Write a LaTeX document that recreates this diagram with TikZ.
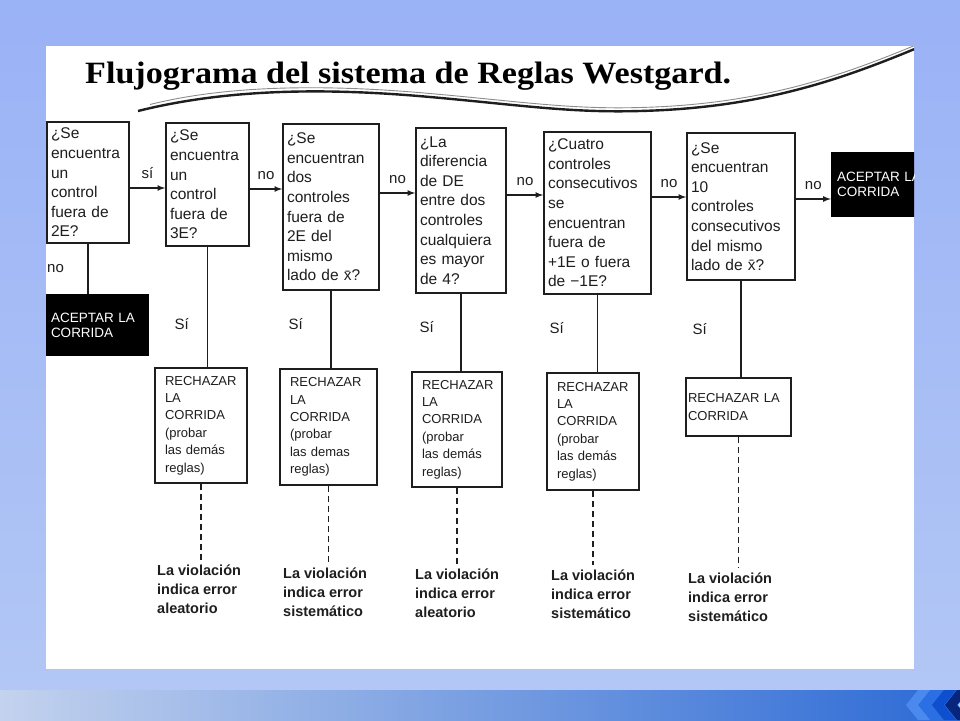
\documentclass[tikz,border=0pt]{standalone}
\usepackage{fontspec}
\setmainfont{Liberation Sans}
\newfontfamily\titlefont{Liberation Serif}
\usetikzlibrary{positioning,arrows,calc}
\definecolor{slidetop}{HTML}{9AB2F6}
\definecolor{slidebot}{HTML}{B3C8F5}
\definecolor{bandl}{HTML}{C3D2EE}
\definecolor{bandm}{HTML}{7FA5E6}
\definecolor{bandr}{HTML}{2C6AD5}
\definecolor{chevA}{HTML}{4A8AEE}
\definecolor{chevB}{HTML}{2B6FE5}
\definecolor{chevC}{HTML}{0E4FD0}
\definecolor{chevD}{HTML}{06267E}
\definecolor{ink}{HTML}{1E1E1E}

\begin{document}
\begin{tikzpicture}[x=1pt,y=-1pt,>=latex,
  qbox/.style={draw=ink,line width=1.7pt,align=left,inner xsep=4pt,inner ysep=0pt,text=ink,font=\fontsize{15.5}{19.6}\selectfont},
  rbox/.style={draw=ink,line width=1.7pt,align=left,inner xsep=10pt,inner ysep=0pt,text=ink,font=\fontsize{13}{17.4}\selectfont},
  acc/.style={fill=black,text=white,align=left,inner xsep=6pt,inner ysep=0pt,font=\fontsize{13.5}{15}\selectfont},
  lbl/.style={text=ink,font=\fontsize{15}{18}\selectfont},
  viol/.style={align=left,anchor=north west,inner sep=0pt,text=ink,font=\bfseries\fontsize{14.5}{19}\selectfont},
  flow/.style={->,line width=1.6pt,draw=ink},
  link/.style={line width=1.6pt,draw=ink},
  dashlink/.style={line width=1.8pt,draw=ink,dash pattern=on 6pt off 4pt,shorten >=5pt}]
\useasboundingbox (0,0) rectangle (960,720);
\fill[top color=slidetop,bottom color=slidebot] (0,0) rectangle (960,720);
\fill[left color=bandl,middle color=bandm,right color=bandr] (0,690) rectangle (960,720);
\fill[chevA] (906,705) -- (918,690) -- (930,690) -- (918,705) -- (930,720) -- (918,720) -- cycle;
\fill[chevB] (919,705) -- (931,690) -- (943,690) -- (931,705) -- (943,720) -- (931,720) -- cycle;
\fill[chevC] (932,705) -- (944,690) -- (956,690) -- (944,705) -- (956,720) -- (944,720) -- cycle;
\fill[chevD] (945,705) -- (957,690) -- (969,690) -- (957,705) -- (969,720) -- (957,720) -- cycle;
\fill[slidebot] (958,705) -- (970,690) -- (982,690) -- (970,705) -- (982,720) -- (970,720) -- cycle;
\fill[white] (46,46) rectangle (914,669);

\begin{scope}
\clip (46,46) rectangle (914,669);
\node[font=\titlefont\bfseries\fontsize{31}{31}\selectfont,anchor=base west,text=black,inner xsep=0pt] (title) at (85,83) {\scalebox{1.1}[1]{Flujograma del sistema de Reglas Westgard.}};
\draw[line width=2.4pt,ink] (138,111) .. controls (230,88) and (330,88) .. (430,97) .. controls (520,105) and (570,113) .. (640,111) .. controls (760,108) and (840,80) .. (917,48);
\draw[line width=0.9pt,black!45,yshift=3.5pt] (150,108) .. controls (230,88) and (330,88) .. (430,97) .. controls (520,105) and (570,113) .. (640,111) .. controls (760,108) and (840,80) .. (917,48);

\node[qbox,text width=74pt,minimum height=121pt] (Q1) at (88,182.5) {¿Se\\encuentra\\un\\control\\fuera de\\2E?};
\node[qbox,text width=75pt,minimum height=123pt] (Q2) at (207.5,184.5) {¿Se\\encuentra\\un\\control\\fuera de\\3E?};
\node[qbox,text width=88pt,minimum height=166pt] (Q3) at (331,207) {¿Se\\encuentran\\dos\\controles\\fuera de\\2E del\\mismo\\lado de \={x}?};
\node[qbox,text width=82pt,minimum height=165pt] (Q4) at (461,210.5) {¿La\\diferencia\\de DE\\entre dos\\controles\\cualquiera\\es mayor\\de 4?};
\node[qbox,text width=99pt,minimum height=162pt] (Q5) at (597.5,213) {¿Cuatro\\controles\\consecutivos\\se\\encuentran\\fuera de\\+1E o fuera\\de −1E?};
\node[qbox,text width=100pt,minimum height=147pt] (Q6) at (741,206.5) {¿Se\\encuentran\\10\\controles\\consecutivos\\del mismo\\lado de \={x}?};
\node[acc,text width=106pt,minimum height=65pt] (A2) at (890,184.5) {ACEPTAR LA\\CORRIDA};
\node[acc,text width=92pt,minimum height=62pt] (A1) at (97,325) {ACEPTAR LA\\CORRIDA};

\node[rbox,text width=72pt,minimum height=115pt] (R2) at (201,425.5) {RECHAZAR\\LA\\CORRIDA\\(probar\\las demás\\reglas)};
\node[rbox,text width=77pt,minimum height=116pt] (R3) at (328.5,427) {RECHAZAR\\LA\\CORRIDA\\(probar\\las demas\\reglas)};
\node[rbox,text width=70pt,minimum height=115pt] (R4) at (457,429.5) {RECHAZAR\\LA\\CORRIDA\\(probar\\las demás\\reglas)};
\node[rbox,text width=72pt,minimum height=117pt] (R5) at (593,431.5) {RECHAZAR\\LA\\CORRIDA\\(probar\\las demás\\reglas)};
\node[rbox,text width=101pt,minimum height=58pt,inner xsep=2pt] (R6) at (738.5,407) {RECHAZAR LA\\CORRIDA};

\node[lbl,anchor=west] (S2) at (171,324) {Sí};
\node[lbl,anchor=west] (S3) at (285,324) {Sí};
\node[lbl,anchor=west] (S4) at (416,327) {Sí};
\node[lbl,anchor=west] (S5) at (546,328) {Sí};
\node[lbl,anchor=west] (S6) at (689,329) {Sí};

\node[viol] (T2) at (157,565) {La violación\\indica error\\aleatorio};
\node[viol] (T3) at (283,568) {La violación\\indica error\\sistemático};
\node[viol] (T4) at (415,569) {La violación\\indica error\\aleatorio};
\node[viol] (T5) at (551,570) {La violación\\indica error\\sistemático};
\node[viol] (T6) at (688,573) {La violación\\indica error\\sistemático};

\draw[flow] ([yshift=-5.5pt]Q1.east) -- node[lbl,above=5pt]{sí} ([yshift=-5.5pt]Q1.east -| Q2.west);
\draw[flow] ([yshift=-4.5pt]Q2.east) -- node[lbl,above=5pt]{no} ([yshift=-4.5pt]Q2.east -| Q3.west);
\draw[flow] ([yshift=14pt]Q3.east) -- node[lbl,above=5pt]{no} ([yshift=14pt]Q3.east -| Q4.west);
\draw[flow] ([yshift=15.5pt]Q4.east) -- node[lbl,above=5pt]{no} ([yshift=15.5pt]Q4.east -| Q5.west);
\draw[flow] ([yshift=16pt]Q5.east) -- node[lbl,above=5pt]{no} ([yshift=16pt]Q5.east -| Q6.west);
\draw[flow] ([yshift=7.5pt]Q6.east) -- node[lbl,above=5pt]{no} ([yshift=7.5pt]Q6.east -| A2.west);
\draw[link] (Q1.south) -- node[lbl,left=20pt]{no} (Q1.south |- A1.north);

\draw[link] (Q2.south) -- (Q2.south |- R2.north);
\draw[link] (Q3.south) -- (Q3.south |- R3.north);
\draw[link] (Q4.south) -- (Q4.south |- R4.north);
\draw[link] (Q5.south) -- (Q5.south |- R5.north);
\draw[link] (Q6.south) -- (Q6.south |- R6.north);

\draw[dashlink] (R2.south) -- (R2.south |- T2.north);
\draw[dashlink] (R3.south) -- (R3.south |- T3.north);
\draw[dashlink] (R4.south) -- (R4.south |- T4.north);
\draw[dashlink] (R5.south) -- (R5.south |- T5.north);
\draw[dashlink] (R6.south) -- (R6.south |- T6.north);
\end{scope}
\end{tikzpicture}
\end{document}
